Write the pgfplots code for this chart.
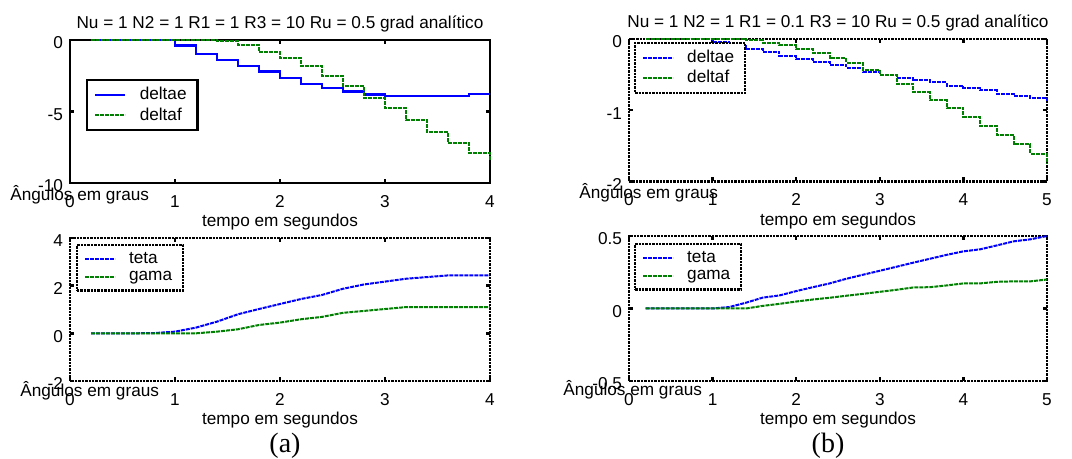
\documentclass[border=0pt]{standalone}
\usepackage{fontspec}
\setmainfont{Liberation Sans}
\newfontfamily\seriffont{Liberation Serif}
\usepackage{pgfplots}
\pgfplotsset{compat=1.18}
\definecolor{mblue}{RGB}{0,0,255}
\definecolor{mgreen}{RGB}{0,128,0}
\pgfplotsset{
  mat/.style={
    scale only axis, anchor=south west, clip=false,
    font=\fontsize{8.6}{10}\selectfont,
    /pgf/number format/assume math mode=true,
    tick align=inside, tick pos=both,
    major tick length=2.2pt,
    major tick style={black, line width=1.2pt},
    xticklabel style={yshift=-2.7pt},
    yticklabel style={yshift=-1.5pt},
    title style={at={(axis description cs:0.5,1)}, anchor=base, yshift=-0.5pt, font=\fontsize{8.6}{10}\selectfont},
    every axis x label/.style={at={(axis description cs:0.5,0)}, anchor=base, yshift=-22pt},
    xlabel={tempo em segundos},
    legend image code/.code={\draw[##1] (0pt,0pt) -- (15pt,0pt); \path (19.5pt,0pt);},
    legend cell align=left,
    legend style={font=\fontsize{8.6}{10}\selectfont, anchor=north west, line width=1.2pt, draw=black, inner xsep=3.5pt, inner ysep=1.5pt, row sep=-1.5pt},
  },
  dotframe/.style={axis line style={line width=1.2pt, dash pattern=on 1.2pt off 0.5pt}, legend style={dash pattern=on 1.2pt off 0.5pt}},
  solidframe/.style={axis line style={line width=1.4pt}},
  bsolid/.style={mblue, line width=1.3pt},
  bdash/.style={mblue, line width=1pt, dash pattern=on 2pt off 0.5pt},
  gdash/.style={mgreen, line width=1pt, dash pattern=on 2pt off 0.5pt},
}
\begin{document}
\begin{tikzpicture}
\path[use as bounding box] (0,0) rectangle (536pt,229.5pt);
% top left
\begin{axis}[mat, solidframe, at={(35pt,138pt)}, width=210pt, height=71.5pt,
  xmin=0, xmax=4, ymin=-10, ymax=0, xtick={0,1,2,3,4}, ytick={-10,-5,0},
  title={Nu = 1 N2 = 1 R1 = 1 R3 = 10 Ru = 0.5 grad analítico},
  legend style={at={(0.038,0.727)}}]
\addplot[bsolid, const plot] coordinates {(0.2,0) (1.0,-0.4) (1.2,-0.97) (1.4,-1.4) (1.6,-1.83) (1.8,-2.2) (2.0,-2.65) (2.2,-3.07) (2.4,-3.35) (2.6,-3.6) (2.8,-3.83) (3.0,-3.92) (3.2,-3.92) (3.4,-3.92) (3.6,-3.92) (3.8,-3.78) (4.0,-3.78)};
\addlegendentry{deltae}
\addplot[gdash, const plot] coordinates {(0.2,0) (1.4,-0.1) (1.6,-0.38) (1.8,-0.82) (2.0,-1.25) (2.2,-1.82) (2.4,-2.5) (2.6,-3.22) (2.8,-4.03) (3.0,-4.74) (3.2,-5.6) (3.4,-6.45) (3.6,-7.17) (3.8,-7.87) (4.0,-8.4)};
\addlegendentry{deltaf}
\end{axis}
% top right
\begin{axis}[mat, dotframe, at={(314.5pt,138.75pt)}, width=209pt, height=71.25pt,
  xmin=0, xmax=5, ymin=-2, ymax=0, xtick={0,1,2,3,4,5}, ytick={-2,-1,0},
  title={Nu = 1 N2 = 1 R1 = 0.1 R3 = 10 Ru = 0.5 grad analítico},
  legend style={at={(0.012,0.98)}}]
\addplot[bdash, const plot] coordinates {(0.2,0) (1.0,-0.04) (1.2,-0.1) (1.4,-0.135) (1.6,-0.18) (1.8,-0.24) (2.0,-0.28) (2.2,-0.32) (2.4,-0.36) (2.6,-0.41) (2.8,-0.46) (3.0,-0.5) (3.2,-0.55) (3.4,-0.58) (3.6,-0.61) (3.8,-0.66) (4.0,-0.69) (4.2,-0.72) (4.4,-0.77) (4.6,-0.8) (4.8,-0.83) (5.0,-0.87)};
\addlegendentry{deltae}
\addplot[gdash, const plot] coordinates {(0.2,0) (1.4,-0.02) (1.6,-0.05) (1.8,-0.09) (2.0,-0.14) (2.2,-0.19) (2.4,-0.27) (2.6,-0.33) (2.8,-0.43) (3.0,-0.5) (3.2,-0.63) (3.4,-0.75) (3.6,-0.86) (3.8,-0.97) (4.0,-1.09) (4.2,-1.22) (4.4,-1.35) (4.6,-1.48) (4.8,-1.61) (5.0,-1.74)};
\addlegendentry{deltaf}
\end{axis}
% bottom left
\begin{axis}[mat, dotframe, at={(35pt,39pt)}, width=210pt, height=71.5pt,
  xmin=0, xmax=4, ymin=-2, ymax=4, xtick={0,1,2,3,4}, ytick={-2,0,2,4},
  legend style={at={(0.014,0.958)}}]
\addplot[bdash] coordinates {(0.2,0) (0.4,0) (0.6,0) (0.8,0.01) (1.0,0.07) (1.2,0.24) (1.4,0.49) (1.6,0.8) (1.8,1.02) (2.0,1.23) (2.2,1.44) (2.4,1.61) (2.6,1.87) (2.8,2.05) (3.0,2.17) (3.2,2.29) (3.4,2.36) (3.6,2.43) (3.8,2.43) (4.0,2.43)};
\addlegendentry{teta}
\addplot[gdash] coordinates {(0.2,0) (0.6,0) (1.0,0) (1.2,0) (1.4,0.07) (1.6,0.17) (1.8,0.35) (2.0,0.45) (2.2,0.59) (2.4,0.69) (2.6,0.86) (2.8,0.94) (3.0,1.02) (3.2,1.1) (3.4,1.1) (3.6,1.1) (4.0,1.1)};
\addlegendentry{gama}
\end{axis}
% bottom right
\begin{axis}[mat, dotframe, at={(314.5pt,39pt)}, width=209pt, height=72.5pt,
  xmin=0, xmax=5, ymin=-0.5, ymax=0.5, xtick={0,1,2,3,4,5}, ytick={-0.5,0,0.5},
  legend style={at={(0.012,0.952)}}]
\addplot[bdash] coordinates {(0.2,0) (1.0,0) (1.2,0.01) (1.4,0.04) (1.6,0.075) (1.8,0.09) (2.0,0.12) (2.2,0.147) (2.4,0.173) (2.6,0.205) (2.8,0.233) (3.0,0.26) (3.2,0.288) (3.4,0.316) (3.6,0.343) (3.8,0.37) (4.0,0.394) (4.2,0.408) (4.4,0.435) (4.6,0.463) (4.8,0.477) (5.0,0.5)};
\addlegendentry{teta}
\addplot[gdash] coordinates {(0.2,0) (1.4,0) (1.6,0.018) (1.8,0.032) (2.0,0.048) (2.2,0.062) (2.4,0.074) (2.6,0.088) (2.8,0.101) (3.0,0.115) (3.2,0.129) (3.4,0.145) (3.6,0.147) (3.8,0.159) (4.0,0.173) (4.2,0.173) (4.4,0.184) (4.6,0.187) (4.8,0.187) (5.0,0.2)};
\addlegendentry{gama}
\end{axis}
\begin{scope}[every node/.style={font=\fontsize{8.6}{10}\selectfont, inner sep=0pt, anchor=base west}]
\node at (5pt,129pt) {Ângulos em graus};
\node at (289.5pt,130pt) {Ângulos em graus};
\node at (10pt,31pt) {Ângulos em graus};
\node at (281.5pt,31.5pt) {Ângulos em graus};
\end{scope}
\node[font=\seriffont\fontsize{14}{16}\selectfont, anchor=base, inner sep=0pt] at (142.5pt,3.1pt) {(a)};
\node[font=\seriffont\fontsize{14}{16}\selectfont, anchor=base, inner sep=0pt] at (414pt,3.1pt) {(b)};
\end{tikzpicture}
\end{document}
